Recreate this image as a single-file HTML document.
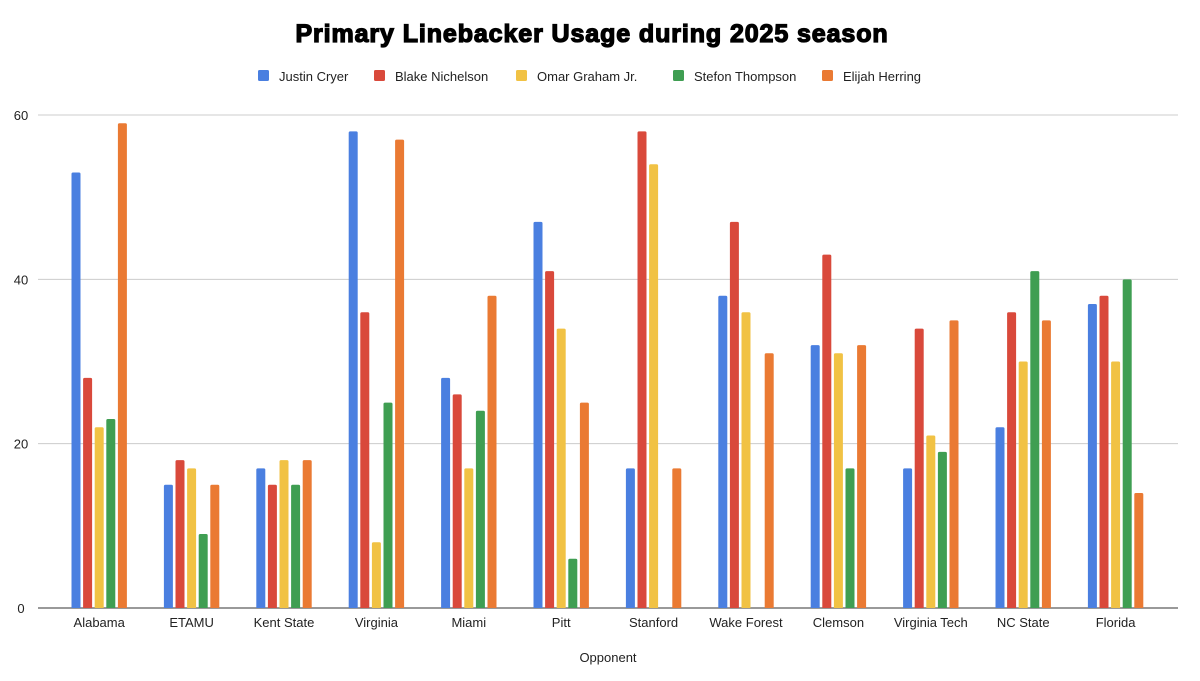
<!DOCTYPE html>
<html><head><meta charset="utf-8">
<style>
html,body{margin:0;padding:0;background:#fff;}
svg{display:block;font-family:"Liberation Sans",Arial,sans-serif;}
</style></head>
<body>
<svg id="chart" width="1200" height="681" viewBox="0 0 1200 681">
<text x="592" y="42" text-anchor="middle" font-size="25" font-weight="900" letter-spacing="0.9" stroke="#000" stroke-width="1.3" fill="#000">Primary Linebacker Usage during 2025 season</text>
<g id="legend"></g>
<g id="grid"></g>
<g id="bars"></g>
<g id="xlabels"></g>
<text x="608" y="662" text-anchor="middle" font-size="13" fill="#222">Opponent</text>
</svg>
<script>
const categories=["Alabama","ETAMU","Kent State","Virginia","Miami","Pitt","Stanford","Wake Forest","Clemson","Virginia Tech","NC State","Florida"];
const seriesNames=["Justin Cryer","Blake Nichelson","Omar Graham Jr.","Stefon Thompson","Elijah Herring"];
const cryer=[53,15,17,58,28,47,17,38,32,17,22,37];
const nichelson=[28,18,15,36,26,41,58,47,43,34,36,38];
const graham=[22,17,18,8,17,34,54,36,31,21,30,30];
const thompson=[23,9,15,25,24,6,0,0,17,19,41,40];
const herring=[59,15,18,57,38,25,17,31,32,35,35,14];
const yTicks=[0,20,40,60];
const colors=["#4a7fe0","#d9493b","#f1c244","#3f9e52","#ea7a33"];
const series=[cryer,nichelson,graham,thompson,herring];
const NS="http://www.w3.org/2000/svg";
const y0=608, yTop=115, yMax=60;
function yScale(v){return y0-(v/yMax)*(y0-yTop);}
const plotL=53, groupW=92.4;
function xCenter(i){return plotL+groupW*(i+0.5);}
function mk(tag,attrs,parent){const e=document.createElementNS(NS,tag);for(const k in attrs)e.setAttribute(k,attrs[k]);parent.appendChild(e);return e;}
const grid=document.getElementById('grid');
yTicks.forEach(t=>{
  const l=mk('line',{x1:38,x2:1178,y1:yScale(t),y2:yScale(t),stroke:t===0?'#333':'#ccc','stroke-width':1},grid);
  
  
  const tx=mk('text',{x:21,y:yScale(t)+5,'text-anchor':'middle','font-size':13,fill:'#222'},grid);
  tx.textContent=t;
  
  
});
const bars=document.getElementById('bars');
const slot=11.6,bw=9;
categories.forEach((c,i)=>{
  series.forEach((s,j)=>{
    const v=s[i]; if(v<=0) return;
    const x=xCenter(i)+(j-2)*slot-bw/2;
    const r=mk('path',{d:`M${x},${y0} V${yScale(v)+1.5} Q${x},${yScale(v)} ${x+1.5},${yScale(v)} H${x+bw-1.5} Q${x+bw},${yScale(v)} ${x+bw},${yScale(v)+1.5} V${y0} Z`,fill:colors[j]},bars);
    
    
  });
  const t=mk('text',{x:xCenter(i),y:627,'text-anchor':'middle','font-size':13,fill:'#222'},document.getElementById('xlabels'));
  t.textContent=c;
  
  
});
const legend=document.getElementById('legend');
const legX=[258,374,516,673,822];
seriesNames.forEach((n,j)=>{
  const g=mk('g',{},legend);
  
  
  mk('rect',{x:legX[j],y:70,width:11,height:11,rx:1.5,fill:colors[j]},g);
  const t=mk('text',{x:legX[j]+21,y:81,'font-size':13,fill:'#222'},g);
  t.textContent=n;
});
</script>
</body></html>
